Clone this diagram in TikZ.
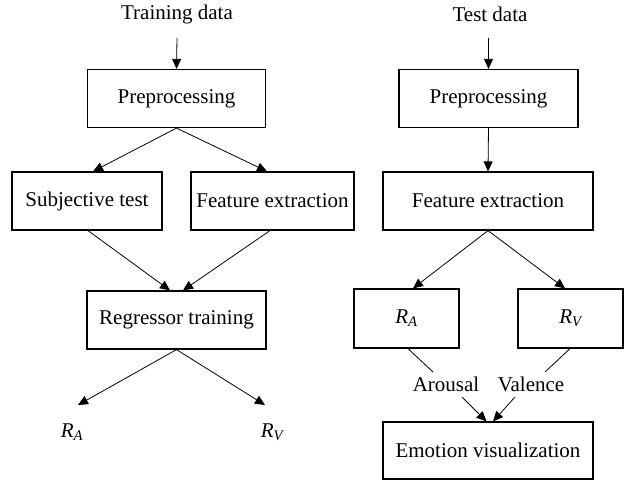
\documentclass[tikz,border=0pt]{standalone}
\usepackage{fontspec}
\setmainfont{Liberation Serif}
\usetikzlibrary{arrows.meta,calc}
\begin{document}
\begin{tikzpicture}[x=1pt,y=-1pt,
  box/.style={draw,line width=1.2pt,rectangle,inner sep=0pt,minimum height=58pt,font=\fontsize{21}{24}\selectfont},
  lbl/.style={inner sep=1pt,font=\fontsize{21}{24}\selectfont},
  arr/.style={line width=0.8pt,-{Triangle[length=10pt,width=9pt]}},
  ln/.style={line width=0.8pt}]
\useasboundingbox (0,0) rectangle (626,480);
% left column
\node[lbl] (title1) at (177,14) {Training data};
\coordinate (t1) at (177,38);
\node[box,minimum width=178pt] (pre1) at (176.5,98.5) {Preprocessing};
\node[box,minimum width=150pt] (subj) at (87,201) {Subjective test};
\node[box,minimum width=163pt] (feat1) at (272.5,201) {Feature extraction};
\node[box,minimum width=179pt] (reg) at (176.5,320) {Regressor training};
\coordinate (ra1) at (78,405);
\coordinate (rv1) at (265,405);
\node[lbl] (RA1) at (72,432) {\itshape R\textsubscript{A}};
\node[lbl] (RV1) at (272,432) {\itshape R\textsubscript{V}};
\draw[arr] (t1) -- (pre1.north);
\draw[arr] (pre1.south) -- ($(subj.north)+(6,0)$);
\draw[arr] (pre1.south) -- ($(feat1.north)+(-5.5,0)$);
\draw[arr] ($(subj.south)+(1,0)$) -- ($(reg.north)+(-6.5,0)$);
\draw[arr] ($(feat1.south)+(-2.5,0)$) -- ($(reg.north)+(6.5,0)$);
\draw[arr] (reg.south) -- (ra1);
\draw[arr] (reg.south) -- (rv1);
% right column
\node[lbl] (title2) at (490,14) {Test data};
\coordinate (t2) at (488.5,38);
\node[box,minimum width=179pt] (pre2) at (488.5,98.5) {Preprocessing};
\node[box,minimum width=210pt] (feat2) at (488,201) {Feature extraction};
\node[box,minimum width=105pt,minimum height=59pt] (RAb) at (406.5,318.5) {\itshape R\textsubscript{A}};
\node[box,minimum width=105pt,minimum height=59pt] (RVb) at (570.5,318.5) {\itshape R\textsubscript{V}};
\node[lbl] (aro) at (446,384) {Arousal};
\node[lbl] (val) at (531,384) {Valence};
\node[box,minimum width=210pt,minimum height=57pt] (emo) at (488,450.5) {Emotion visualization};
\coordinate (a1) at (433,372);
\coordinate (a2) at (462,397);
\coordinate (v1) at (545,372);
\coordinate (v2) at (515,397);
\draw[arr] (t2) -- (pre2.north);
\draw[arr] (pre2.south) -- (feat2.north);
\draw[arr] (feat2.south) -- ($(RAb.north)+(6.5,0)$);
\draw[arr] (feat2.south) -- ($(RVb.north)+(-5.5,0)$);
\draw[ln] ($(RAb.south)+(1.5,0)$) -- (a1);
\draw[arr] (a2) -- ($(emo.north)+(-1.5,0)$);
\draw[ln] ($(RVb.south)+(-0.5,0)$) -- (v1);
\draw[arr] (v2) -- ($(emo.north)+(5,0)$);
\end{tikzpicture}
\end{document}
